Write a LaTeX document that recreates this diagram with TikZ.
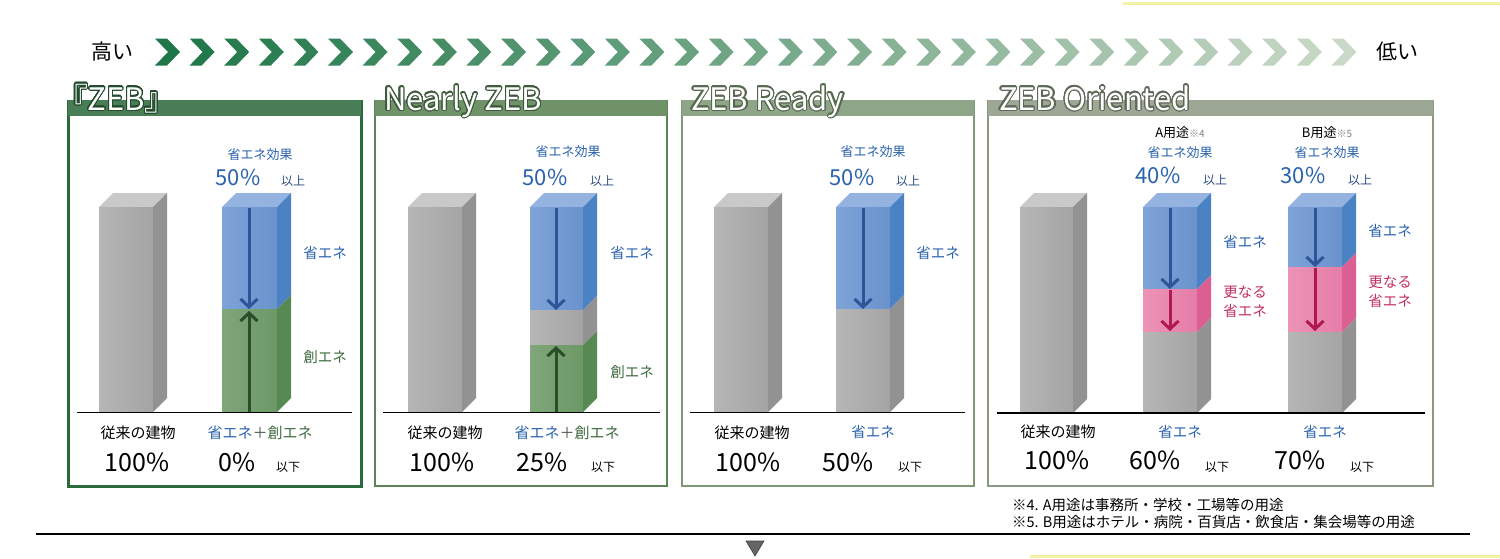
\documentclass[tikz,border=0pt]{standalone}
\usepackage{fontspec}
\setmainfont{Noto Sans CJK JP}
\newfontfamily\ttlfont[RawFeature=+palt]{Noto Sans CJK JP}
\usepackage{contour}
\contourlength{1.1pt}
\contournumber{24}
\usetikzlibrary{arrows.meta}

\definecolor{cgyL}{HTML}{B6B6B6}
\definecolor{cgyR}{HTML}{A4A4A4}
\definecolor{cgyS}{HTML}{929292}
\definecolor{cgyT}{HTML}{C9C9C9}
\definecolor{cblL}{HTML}{7EA3D8}
\definecolor{cblR}{HTML}{6A92CC}
\definecolor{cblS}{HTML}{4A82C3}
\definecolor{cblT}{HTML}{94B3E0}
\definecolor{cgrL}{HTML}{80A67A}
\definecolor{cgrR}{HTML}{6C9866}
\definecolor{cgrS}{HTML}{578A52}
\definecolor{cpkL}{HTML}{EC93B6}
\definecolor{cpkR}{HTML}{E57DA8}
\definecolor{cpkS}{HTML}{DC5F93}
\definecolor{arrBlue}{HTML}{2E5597}
\definecolor{arrGreen}{HTML}{2A4D2A}
\definecolor{arrPink}{HTML}{B0184F}
\definecolor{txtBlue}{HTML}{2A62AE}
\definecolor{txtNavy}{HTML}{2D4E86}
\definecolor{txtGreen}{HTML}{3F6A3F}
\definecolor{txtPink}{HTML}{C42E62}
\definecolor{plusGray}{HTML}{4A5A4A}
\definecolor{chevDark}{HTML}{1E7649}
\definecolor{chevLight}{HTML}{CAD9C7}
\definecolor{yel}{HTML}{F4F0A6}
\definecolor{pAline}{HTML}{2A6B3C}
\definecolor{pAband}{HTML}{487D56}
\definecolor{pAout}{HTML}{234A2C}
\definecolor{pBline}{HTML}{5C8457}
\definecolor{pBband}{HTML}{6F9268}
\definecolor{pBout}{HTML}{3E5A3C}
\definecolor{pCline}{HTML}{7F9978}
\definecolor{pCband}{HTML}{8FA587}
\definecolor{pCout}{HTML}{56684F}
\definecolor{pDline}{HTML}{8A9884}
\definecolor{pDband}{HTML}{9CA893}
\definecolor{pDout}{HTML}{5E6858}

\newcommand{\zsegm}[5]{%
  \fill[left color=#5L, right color=#5R] (#1,#3) rectangle (#2,#4);
  \fill[#5S] (#2,#3) -- ({#2+14},{#3-14}) -- ({#2+14},{#4-14}) -- (#2,#4) -- cycle;}
\newcommand{\ztop}[4]{%
  \fill[#4T] (#1,#3) -- (#2,#3) -- ({#2+14},{#3-14}) -- ({#1+14},{#3-14}) -- cycle;}

\tikzset{
  tx/.style={inner sep=0pt, outer sep=0pt},
  stEff/.style={tx, text=txtBlue, font=\fontsize{13}{13}\selectfont},
  stPct/.style={tx, text=txtBlue, font=\fontsize{22}{22}\selectfont},
  stUp/.style={tx, text=txtNavy, font=\fontsize{12}{12}\selectfont},
  stDn/.style={tx, text=black, font=\fontsize{12}{12}\selectfont},
  stSe/.style={tx, text=txtBlue, font=\fontsize{14.5}{14.5}\selectfont},
  stSo/.style={tx, text=txtGreen, font=\fontsize{14.5}{14.5}\selectfont},
  stMore/.style={tx, text=txtPink, font=\fontsize{14.5}{19}\selectfont, align=center},
  stOld/.style={tx, text=black, font=\fontsize{15}{15}\selectfont},
  stBig/.style={tx, text=black, font=\fontsize{25}{25}\selectfont},
  stUse/.style={tx, text=black, font=\fontsize{13}{13}\selectfont},
  stTitle/.style={tx, anchor=base west, text=white, font=\ttlfont\fontsize{31}{31}\selectfont},
  stNote/.style={tx, anchor=west, text=black, font=\fontsize{14.5}{14.5}\selectfont},
  stHL/.style={tx, text=black, font=\fontsize{21}{21}\selectfont},
  ground/.style={draw=black, line width=1.6pt},
  arrB/.style={draw=arrBlue, line width=3pt, -{Straight Barb[length=8pt,width=17pt]}},
  arrG/.style={draw=arrGreen, line width=3pt, -{Straight Barb[length=8pt,width=17pt]}},
  arrP/.style={draw=arrPink, line width=3pt, -{Straight Barb[length=8pt,width=17pt]}},
}

\begin{document}
\begin{tikzpicture}[x=1pt,y=-1pt]
\useasboundingbox (0,0) rectangle (1500,558);
\fill[white] (0,0) rectangle (1500,558);

% yellow lines
\draw[yel, line width=3pt] (1123,3) -- (1500,3);
\draw[yel, line width=2.5pt] (1030,556.5) -- (1500,556.5);

% chevrons
\foreach \i in {0,...,34} {
  \pgfmathsetmacro\xx{155+34.6*\i}
  \pgfmathtruncatemacro\pp{100*\i/34}
  \colorlet{chc}{chevLight!\pp!chevDark}
  \fill[chc] (\xx,38.5) -- ++(12,0) -- ++(13,13.5) -- ++(-13,13.5) -- ++(-12,0) -- ++(13,-13.5) -- cycle;
}
\node[stHL] (hi) at (112,52) {高い};
\node[stHL] (lo) at (1397,52) {低い};

% panel frames
\draw[pAline, line width=3pt, fill=white] (68,101) rectangle (361,486);
\fill[pAband] (68,100) rectangle (361,116);
\draw[pBline, line width=2pt, fill=white] (375,101) rectangle (667,486);
\fill[pBband] (375,100) rectangle (667,116);
\draw[pCline, line width=2pt, fill=white] (682,101) rectangle (974,486);
\fill[pCband] (682,100) rectangle (974,116);
\draw[pDline, line width=2pt, fill=white] (988,101) rectangle (1433,486);
\fill[pDband] (988,100) rectangle (1433,116);

% ---------- panel 1 ----------
\ztop{99}{153}{207}{cgy}
\zsegm{99}{153}{207}{412}{cgy}
\ztop{222}{277}{207}{cbl}
\zsegm{222}{277}{207}{309}{cbl}
\zsegm{222}{277}{309}{412}{cgr}
\draw[ground] (77,412.5) -- (352,412.5);
\coordinate (a1s) at (249,208);
\coordinate (a1e) at (249,309);
\coordinate (g1s) at (249,412);
\coordinate (g1e) at (249,311);
\draw[arrB] (a1s) -- (a1e);
\draw[arrG] (g1s) -- (g1e);

% ---------- panel 2 ----------
\ztop{408}{462}{207}{cgy}
\zsegm{408}{462}{207}{412}{cgy}
\ztop{530}{583}{207}{cbl}
\zsegm{530}{583}{207}{310}{cbl}
\zsegm{530}{583}{310}{345}{cgy}
\zsegm{530}{583}{345}{412}{cgr}
\draw[ground] (383,412.5) -- (660,412.5);
\coordinate (a2s) at (556,208);
\coordinate (a2e) at (556,310);
\coordinate (g2s) at (556,412);
\coordinate (g2e) at (556,346);
\draw[arrB] (a2s) -- (a2e);
\draw[arrG] (g2s) -- (g2e);

% ---------- panel 3 ----------
\ztop{714}{768}{207}{cgy}
\zsegm{714}{768}{207}{412}{cgy}
\ztop{836}{890}{207}{cbl}
\zsegm{836}{890}{207}{309}{cbl}
\zsegm{836}{890}{309}{412}{cgy}
\draw[ground] (690,412.5) -- (965,412.5);
\coordinate (a3s) at (863,208);
\coordinate (a3e) at (863,309);
\draw[arrB] (a3s) -- (a3e);

% ---------- panel 4 ----------
\ztop{1020}{1073}{207}{cgy}
\zsegm{1020}{1073}{207}{413}{cgy}
\ztop{1143}{1197}{207}{cbl}
\zsegm{1143}{1197}{207}{289}{cbl}
\zsegm{1143}{1197}{289}{332}{cpk}
\zsegm{1143}{1197}{332}{413}{cgy}
\ztop{1288}{1342}{207}{cbl}
\zsegm{1288}{1342}{207}{267}{cbl}
\zsegm{1288}{1342}{267}{332}{cpk}
\zsegm{1288}{1342}{332}{413}{cgy}
\draw[ground] (997,413) -- (1425,413);
\coordinate (a4s) at (1170,208);
\coordinate (a4e) at (1170,289);
\coordinate (p4s) at (1170,290);
\coordinate (p4e) at (1170,331);
\coordinate (b4s) at (1315,208);
\coordinate (b4e) at (1315,267);
\coordinate (q4s) at (1315,268);
\coordinate (q4e) at (1315,331);
\draw[arrB] (a4s) -- (a4e);
\draw[arrP] (p4s) -- (p4e);
\draw[arrB] (b4s) -- (b4e);
\draw[arrP] (q4s) -- (q4e);

% ---------- texts panel 1 ----------
\node[stEff] (e1) at (260,155) {省エネ効果};
\node[stPct] (c1) at (238,177) {50\%};
\node[stUp] (u1) at (293,181) {以上};
\node[stSe] (s1) at (325,253) {省エネ};
\node[stSo] (o1) at (325,357) {創エネ};
\node[stOld] (b1) at (138,433) {従来の建物};
\node[stOld] (m1) at (260,433) {\textcolor{txtBlue}{省エネ}\textcolor{plusGray}{＋}\textcolor{txtGreen}{創エネ}};
\node[stBig] (h1) at (137,462) {100\%};
\node[stBig] (v1) at (237,462) {0\%};
\node[stDn] (d1) at (288,467) {以下};

% ---------- texts panel 2 ----------
\node[stEff] (e2) at (568,152) {省エネ効果};
\node[stPct] (c2) at (545,177) {50\%};
\node[stUp] (u2) at (602,181) {以上};
\node[stSe] (s2) at (632,253) {省エネ};
\node[stSo] (o2) at (632,372) {創エネ};
\node[stOld] (b2) at (445,433) {従来の建物};
\node[stOld] (m2) at (567,433) {\textcolor{txtBlue}{省エネ}\textcolor{plusGray}{＋}\textcolor{txtGreen}{創エネ}};
\node[stBig] (h2) at (442,462) {100\%};
\node[stBig] (v2) at (542,462) {25\%};
\node[stDn] (d2) at (603,467) {以下};

% ---------- texts panel 3 ----------
\node[stEff] (e3) at (873,152) {省エネ効果};
\node[stPct] (c3) at (852,177) {50\%};
\node[stUp] (u3) at (908,181) {以上};
\node[stSe] (s3) at (938,253) {省エネ};
\node[stOld] (b3) at (752,433) {従来の建物};
\node[stSe] (m3) at (873,432) {省エネ};
\node[stBig] (h3) at (748,462) {100\%};
\node[stBig] (v3) at (848,462) {50\%};
\node[stDn] (d3) at (910,467) {以下};

% ---------- texts panel 4 ----------
\node[stUse] (ua) at (1180,133) {A用途\textcolor{gray}{\fontsize{10}{10}\selectfont ※4}};
\node[stEff] (ea) at (1180,153) {省エネ効果};
\node[stPct] (ca) at (1158,175) {40\%};
\node[stUp] (pa) at (1215,180) {以上};
\node[stSe] (sa) at (1245,242) {省エネ};
\node[stMore] (ma) at (1245,302) {更なる\\省エネ};
\node[stUse] (ub) at (1327,133) {B用途\textcolor{gray}{\fontsize{10}{10}\selectfont ※5}};
\node[stEff] (eb) at (1327,153) {省エネ効果};
\node[stPct] (cb) at (1303,175) {30\%};
\node[stUp] (pb) at (1360,180) {以上};
\node[stSe] (sb) at (1390,231) {省エネ};
\node[stMore] (mb) at (1390,292) {更なる\\省エネ};
\node[stOld] (b4) at (1058,432) {従来の建物};
\node[stSe] (ra) at (1180,432) {省エネ};
\node[stSe] (rb) at (1325,432) {省エネ};
\node[stBig] (h4) at (1057,460) {100\%};
\node[stBig] (va) at (1155,460) {60\%};
\node[stDn] (da) at (1217,467) {以下};
\node[stBig] (vb) at (1300,460) {70\%};
\node[stDn] (db) at (1362,467) {以下};

% titles
\node[stTitle] (t1) at (72,110) {\contour{pAout}{『ZEB』}};
\node[stTitle] (t2) at (384,110) {\contour{pBout}{Nearly ZEB}};
\node[stTitle] (t3) at (691,110) {\contour{pCout}{ZEB Ready}};
\node[stTitle] (t4) at (999,110) {\contour{pDout}{ZEB Oriented}};

% footnotes
\node[stNote] (n4) at (1012,505) {※4. A用途は事務所・学校・工場等の用途};
\node[stNote] (n5) at (1012,522) {※5. B用途はホテル・病院・百貨店・飲食店・集会場等の用途};

% bottom rule and marker
\coordinate (rl) at (36,534);
\coordinate (rr) at (1470,534);
\draw[black, line width=2pt] (rl) -- (rr);
\fill[black!60] (746,541) -- (764,541) -- (755,556) -- cycle;
\draw[black!75, line width=0.6pt] (746,541) -- (764,541) -- (755,556) -- cycle;
\end{tikzpicture}
\end{document}
